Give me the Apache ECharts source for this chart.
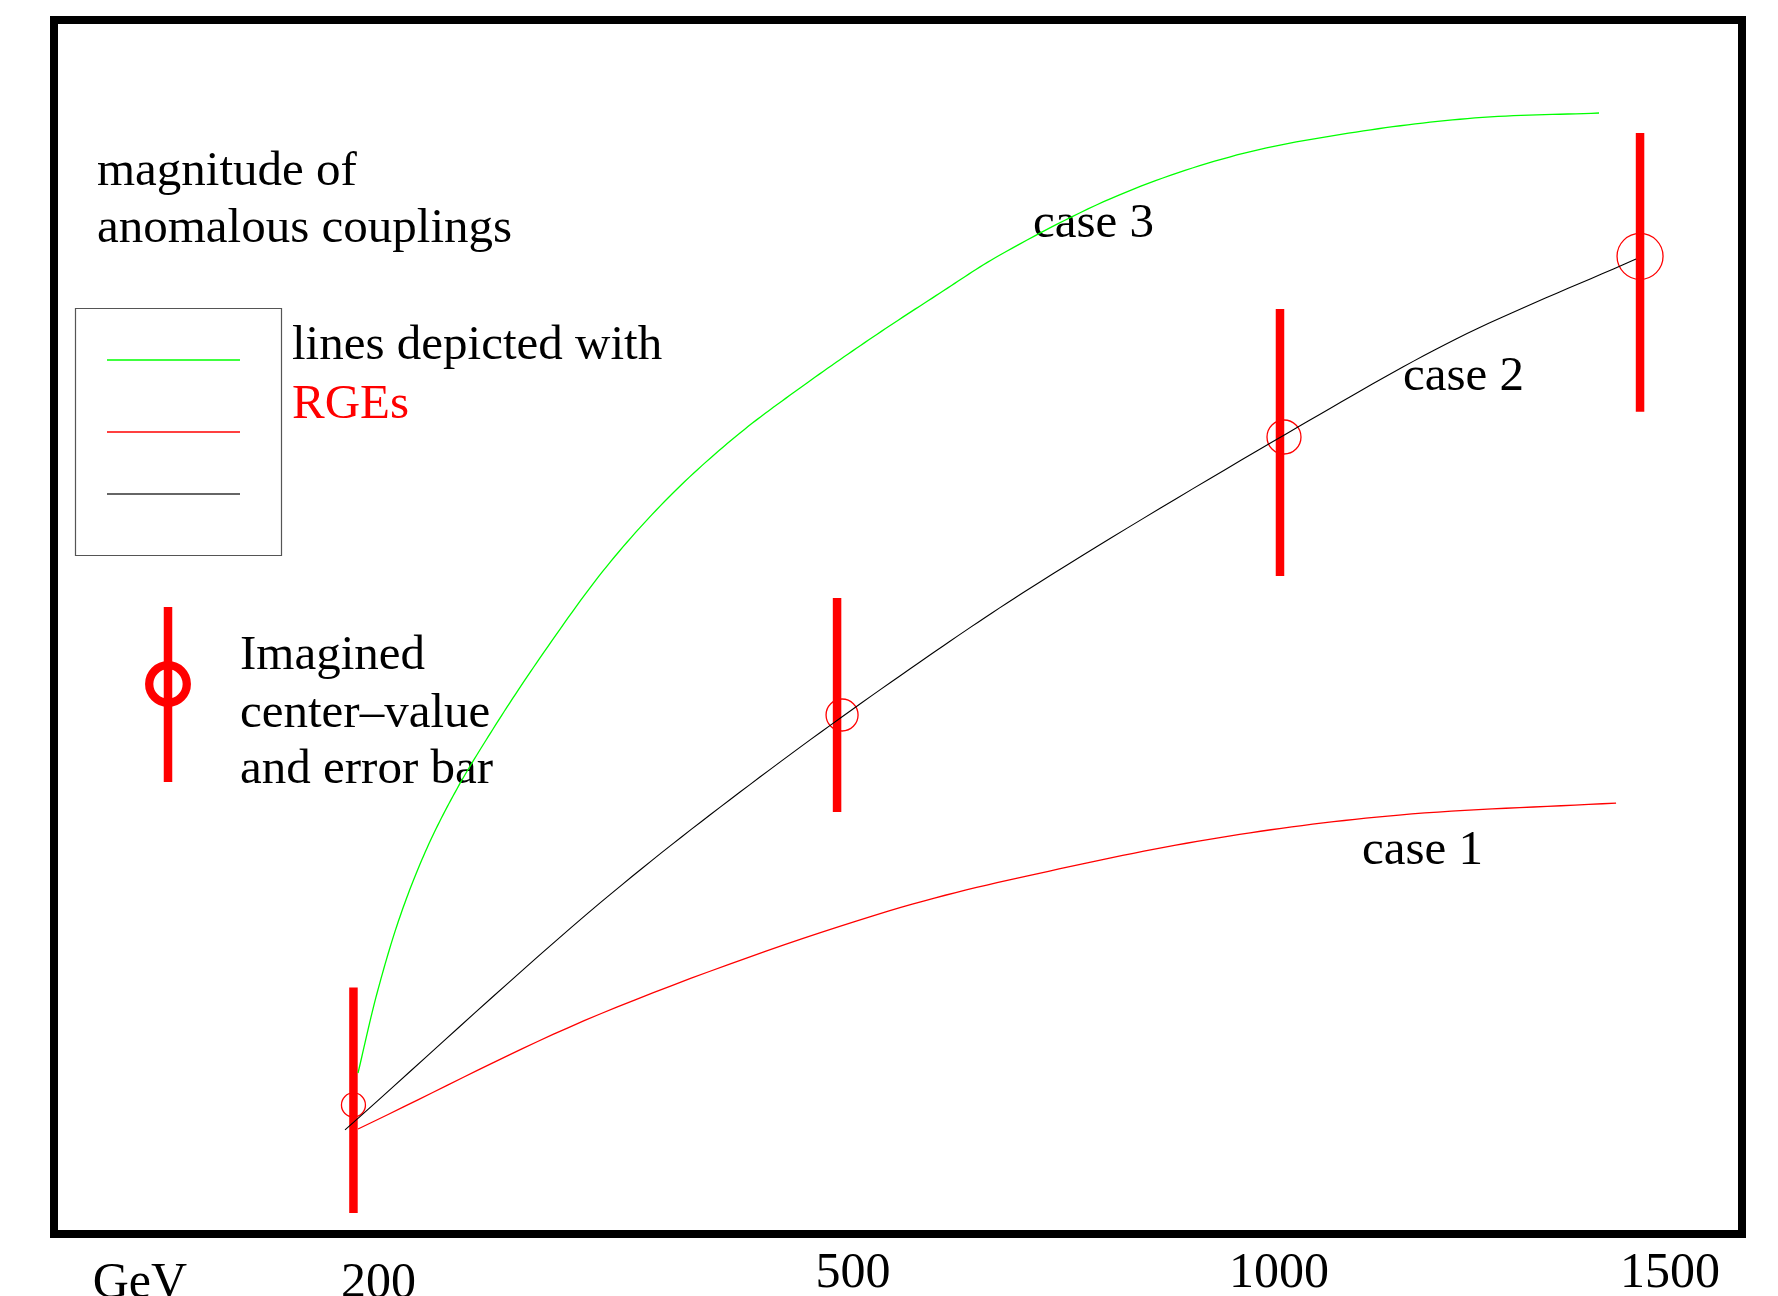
<!DOCTYPE html>
<html>
<head>
<meta charset="utf-8">
<script src="https://cdn.jsdelivr.net/npm/echarts@6/dist/echarts.min.js"></script>
<style>
  html, body { margin: 0; padding: 0; background: #fff; }
  #chart { width: 1778px; height: 1296px; }
</style>
</head>
<body>
<div id="chart"></div>
<script>
// schematic plot coordinates: x and y both run 0..100 across the frame
const energyLabels = ['200', '500', '1000', '1500'];
const energyLabelPos = [19.22, 47.33, 72.57, 95.73];
const unitLabel = 'GeV';
const unitLabelPos = 5.09;

// imagined measurements: x, lower end, upper end, centre value
const barX = [17.74, 46.39, 72.63, 93.96];
const barLow = [1.73, 34.76, 54.20, 67.73];
const barHigh = [20.30, 52.39, 76.19, 90.69];
const barCenter = [10.63, 42.75, 65.65, 80.53];

// case 1 (red)
const case1X = [18.01, 32.35, 49.47, 59.54, 69.61, 79.68, 92.54];
const case1Y = [8.65, 18.12, 26.61, 30.07, 32.78, 34.51, 35.50];
// case 2 (black)
const case2X = [17.24, 32.35, 41.82, 51.30, 58.41, 72.99, 83.06, 93.72];
const case2Y = [8.57, 27.27, 37.64, 47.12, 53.71, 65.90, 73.72, 80.31];
// case 3 (green)
const case3X = [18.01, 19.14, 20.50, 22.10, 23.87, 26.01, 28.79, 32.76, 36.67, 40.64, 44.61, 48.52, 52.49, 56.04, 63.09, 70.08, 77.13, 84.18, 91.53];
const case3Y = [13.26, 19.85, 26.16, 31.80, 36.66, 41.60, 47.45, 55.02, 61.04, 65.98, 70.10, 73.89, 77.51, 80.64, 85.58, 88.88, 90.77, 91.93, 92.34];

const ringRadius = [12, 16, 17, 23];
const ringShift = [0, 5, 4, 0];
const FONT = '"Liberation Serif", "Times New Roman", serif';

const zip = (xs, ys) => xs.map((x, i) => [x, ys[i]]);

// centripetal catmull-rom through pixel points
function spline(pts, steps) {
    const n = pts.length;
    const P = [
        [2 * pts[0][0] - pts[1][0], 2 * pts[0][1] - pts[1][1]],
        ...pts,
        [2 * pts[n - 1][0] - pts[n - 2][0], 2 * pts[n - 1][1] - pts[n - 2][1]]
    ];
    const lerp = (a, b, ta, tb, t) => {
        const k = (t - ta) / (tb - ta);
        return [a[0] + (b[0] - a[0]) * k, a[1] + (b[1] - a[1]) * k];
    };
    const knot = (a, b) => Math.sqrt(Math.hypot(b[0] - a[0], b[1] - a[1])) || 1e-6;
    const out = [pts[0]];
    for (let i = 1; i < P.length - 2; i++) {
        const p0 = P[i - 1], p1 = P[i], p2 = P[i + 1], p3 = P[i + 2];
        const t0 = 0, t1 = t0 + knot(p0, p1), t2 = t1 + knot(p1, p2), t3 = t2 + knot(p2, p3);
        for (let s = 1; s <= steps; s++) {
            const t = t1 + (t2 - t1) * s / steps;
            const a1 = lerp(p0, p1, t0, t1, t), a2 = lerp(p1, p2, t1, t2, t), a3 = lerp(p2, p3, t2, t3, t);
            const b1 = lerp(a1, a2, t0, t2, t), b2 = lerp(a2, a3, t1, t3, t);
            out.push(lerp(b1, b2, t1, t2, t));
        }
    }
    return out;
}

const curve = (name, xs, ys, color, width) => ({
    type: 'custom', name: name, z: 3,
    data: zip(xs, ys),
    renderItem: (params, api) => {
        if (params.dataIndex !== 0) return null;
        const pts = xs.map((x, i) => api.coord([x, ys[i]]));
        return {
            type: 'polyline',
            shape: { points: spline(pts, 16) },
            style: { stroke: color, lineWidth: width, fill: null }
        };
    }
});

const chart = echarts.init(document.getElementById('chart'));

const txt = (x, y, text, color) => ({
    type: 'text',
    left: x,
    top: y,
    style: {
        text: text,
        fill: color || '#000',
        font: '49px ' + FONT,
        verticalAlign: 'top'
    }
});

const hiddenX = {
    type: 'value', min: 0, max: 100, position: 'bottom',
    axisLine: { show: false }, axisTick: { show: false }, splitLine: { show: false }
};

chart.setOption({
    animation: false,
    grid: {
        left: 54, right: 36, top: 20, bottom: 62,
        outerBoundsMode: 'none',
        show: true, borderWidth: 8, borderColor: '#000', backgroundColor: 'transparent'
    },
    xAxis: [
        Object.assign({}, hiddenX, {
            axisLabel: {
                customValues: energyLabelPos.slice(1),
                formatter: v => energyLabels[energyLabelPos.indexOf(v)],
                margin: 15,
                fontSize: 50,
                fontFamily: FONT,
                color: '#000'
            }
        }),
        Object.assign({}, hiddenX, {
            axisLabel: {
                customValues: [unitLabelPos, energyLabelPos[0]],
                formatter: v => v === unitLabelPos ? unitLabel : energyLabels[0],
                margin: 25,
                fontSize: 50,
                fontFamily: FONT,
                color: '#000'
            }
        })
    ],
    yAxis: {
        type: 'value', min: 0, max: 100, show: false
    },
    series: [
        {
            type: 'custom',
            name: 'error bars',
            clip: false,
            z: 1,
            data: barX.map((x, i) => [x, barLow[i], barHigh[i], barCenter[i]]),
            renderItem: (params, api) => {
                const lo = api.coord([api.value(0), api.value(1)]);
                const hi = api.coord([api.value(0), api.value(2)]);
                const c = api.coord([api.value(0), api.value(3)]);
                return {
                    type: 'group',
                    children: [
                        {
                            type: 'line',
                            shape: { x1: lo[0], y1: lo[1], x2: hi[0], y2: hi[1] },
                            style: { stroke: '#ff0000', lineWidth: 8.5, lineCap: 'butt' }
                        },
                        {
                            type: 'circle',
                            shape: { cx: c[0] + ringShift[params.dataIndex], cy: c[1], r: ringRadius[params.dataIndex] },
                            style: { stroke: '#ff0000', fill: null, lineWidth: 1.3 }
                        }
                    ]
                };
            }
        },
        curve('case 1', case1X, case1Y, '#ff0000', 1.3),
        curve('case 2', case2X, case2Y, '#000000', 1.1),
        curve('case 3', case3X, case3Y, '#00ff00', 1.3)
    ],
    graphic: [
        txt(97, 148, 'magnitude of'),
        txt(97, 205, 'anomalous couplings'),
        // legend box for the three curves
        {
            type: 'rect',
            shape: { x: 75.5, y: 308.5, width: 206, height: 247 },
            style: { fill: null, stroke: '#555', lineWidth: 1.2 }
        },
        { type: 'line', shape: { x1: 107, y1: 360, x2: 240, y2: 360 }, style: { stroke: '#00ff00', lineWidth: 1.3 } },
        { type: 'line', shape: { x1: 107, y1: 432, x2: 240, y2: 432 }, style: { stroke: '#ff0000', lineWidth: 1.3 } },
        { type: 'line', shape: { x1: 107, y1: 494, x2: 240, y2: 494 }, style: { stroke: '#333', lineWidth: 1.3 } },
        txt(292, 322, 'lines depicted with'),
        txt(292, 381, 'RGEs', '#ff0000'),
        // error bar key
        { type: 'line', shape: { x1: 168, y1: 607, x2: 168, y2: 782 }, style: { stroke: '#ff0000', lineWidth: 8.5 } },
        { type: 'circle', shape: { cx: 168, cy: 684, r: 18.8 }, style: { stroke: '#ff0000', fill: null, lineWidth: 8.3 } },
        txt(240, 632, 'Imagined'),
        txt(240, 690, 'center\u2013value'),
        txt(240, 746, 'and error bar'),
        // curve labels
        txt(1033, 200, 'case 3'),
        txt(1403, 353, 'case 2'),
        txt(1362, 827, 'case 1')
    ]
});
</script>
</body>
</html>
